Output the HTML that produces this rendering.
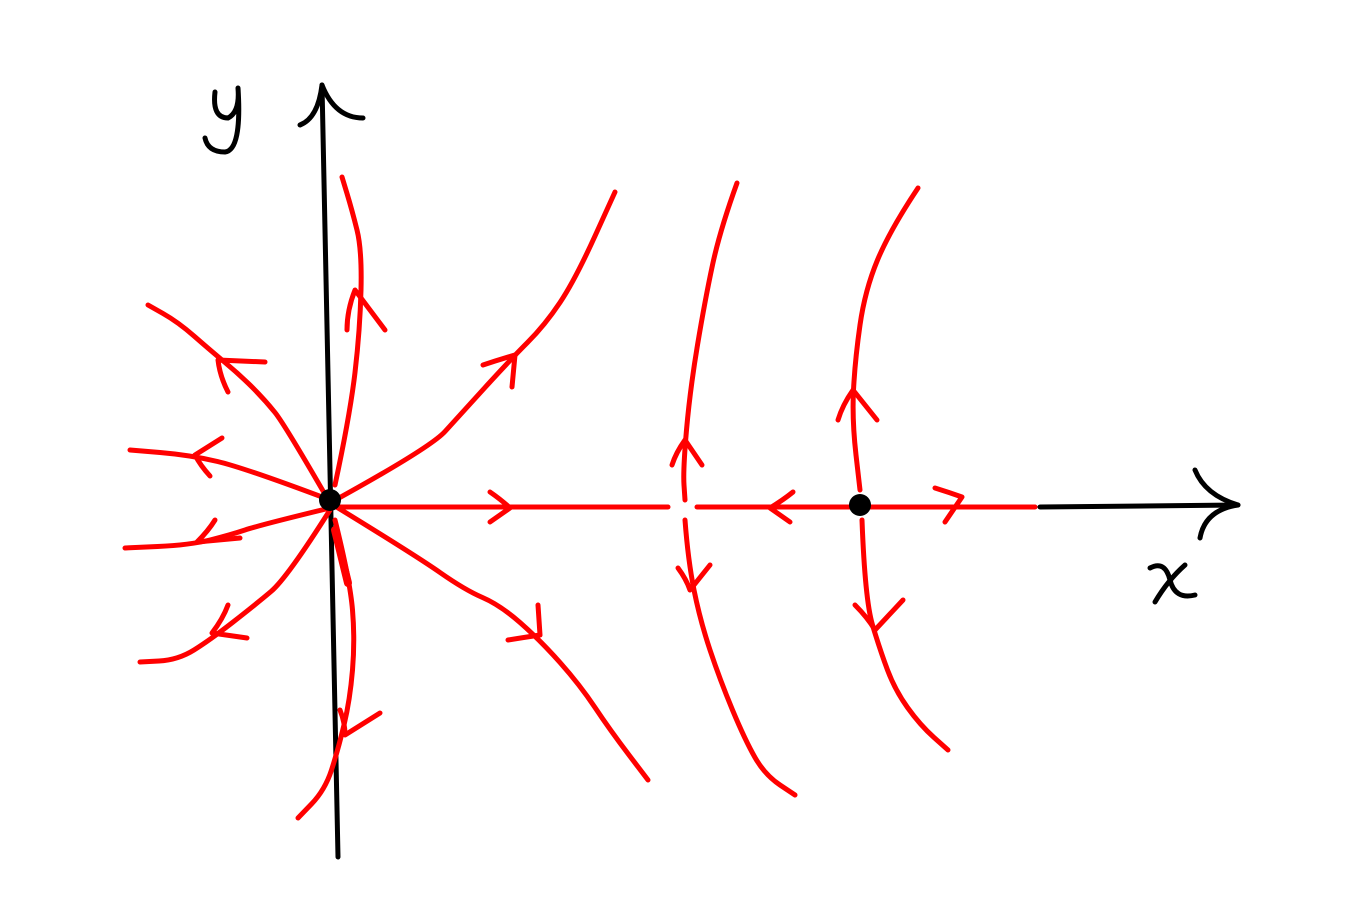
<!DOCTYPE html>
<html><head><meta charset="utf-8"><style>
html,body{margin:0;padding:0;background:#fff;width:1359px;height:912px;overflow:hidden}
svg{display:block}
text{font-family:"Liberation Sans",sans-serif}
</style></head><body>
<svg id="c" width="1359" height="912" viewBox="0 0 1359 912">
<g fill="none" stroke-linecap="round" stroke-linejoin="round">
<g stroke="#000" stroke-width="5">
<path d="M322 85 L338 857"/>
<path d="M300 125 Q318 118 322 85 Q335 118 363 118"/>
<path d="M1040 507 L1238 505"/>
<path d="M1195 470 Q1205 495 1238 505 Q1205 510 1200 538"/>
<path d="M215 92 Q212 118 228 118 Q240 112 238 88 M238 88 Q242 150 225 152 Q208 152 205 138"/>
<path d="M1150 568 Q1165 560 1170 580 Q1175 600 1195 595 M1185 565 Q1168 580 1155 602"/>
</g>
<g id="red" stroke="#f00" stroke-width="5"></g>
</g>
<circle cx="330" cy="500" r="11" fill="#000"/>
<circle cx="860" cy="505" r="11" fill="#000"/>
<text x="0" y="-10" font-size="1">y x</text>
</svg>
<script>
const trajectories = [
 ["x-axis-flow-left",[[330,507],[668,507]]],
 ["x-axis-flow-right",[[697,507],[1035,507]]],
 ["traj-up",[[335,485],[350,415],[360,330],[362,250],[352,210],[342,177]]],
 ["traj-up-right",[[330,503],[430,448],[460,415],[510,360],[545,325],[575,280],[615,192]]],
 ["traj-down-right",[[330,503],[415,555],[465,590],[500,605],[540,640],[580,685],[610,730],[648,780]]],
 ["traj-down",[[335,520],[350,580],[355,640],[350,700],[338,750],[325,790],[298,818]]],
 ["traj-left-up",[[330,503],[285,425],[265,400],[240,375],[210,350],[178,322],[148,305]]],
 ["traj-left",[[330,500],[245,468],[190,455],[130,450]]],
 ["traj-left-low",[[330,508],[260,525],[230,535],[190,545],[125,548]]],
 ["traj-left-down",[[330,510],[287,578],[255,605],[210,640],[178,660],[140,662]]],
 ["curve1-top",[[737,183],[720,230],[705,300],[690,390],[683,470],[685,500]]],
 ["curve1-bottom",[[685,520],[688,560],[700,620],[720,680],[745,740],[765,775],[795,795]]],
 ["curve2-top",[[918,188],[890,230],[865,290],[855,360],[852,420],[860,490]]],
 ["curve2-bottom",[[862,520],[865,600],[880,650],[895,690],[920,725],[948,750]]],
 ["traj-down-thick",[[335,530],[348,583]]]
];
const arrows = [
 [[490,492],[510,508],[490,522]],[[793,492],[770,508],[790,522]],[[935,488],[962,497],[945,522]],
 [[347,330],[355,290],[385,330]],[[483,365],[515,355],[512,387]],[[508,640],[540,635],[538,605]],
 [[340,710],[345,735],[380,713]],[[228,392],[218,360],[265,362]],[[210,476],[195,455],[222,438]],
 [[215,520],[197,542],[240,538]],[[228,605],[212,633],[247,638]],
 [[672,465],[685,440],[702,465]],[[678,568],[690,590],[710,565]],
 [[838,420],[853,390],[877,420]],[[855,605],[875,630],[903,600]]
];
const g=document.getElementById('red');
const NS='http://www.w3.org/2000/svg';
function smooth(p){
 let d='M'+p[0][0]+' '+p[0][1];
 for(let i=1;i<p.length;i++){
  if(i<p.length-1){const mx=(p[i][0]+p[i+1][0])/2,my=(p[i][1]+p[i+1][1])/2;d+=' Q'+p[i][0]+' '+p[i][1]+' '+mx+' '+my;}
  else d+=' L'+p[i][0]+' '+p[i][1];
 }
 return d;
}
trajectories.forEach(t=>{
 const el=document.createElementNS(NS,'path');
 el.setAttribute('d',smooth(t[1]));
 if(t[0]==='traj-down-thick')el.setAttribute('stroke-width','8');
 
 
 g.appendChild(el);
});
arrows.forEach(a=>{
 const el=document.createElementNS(NS,'path');
 el.setAttribute('d','M'+a[0].join(' ')+' Q'+((a[0][0]+a[1][0])/2+ (a[1][1]-a[0][1])*0.1)+' '+((a[0][1]+a[1][1])/2)+' '+a[1].join(' ')+' L'+a[2].join(' '));
 
 
 g.appendChild(el);
});
</script>
</body></html>
